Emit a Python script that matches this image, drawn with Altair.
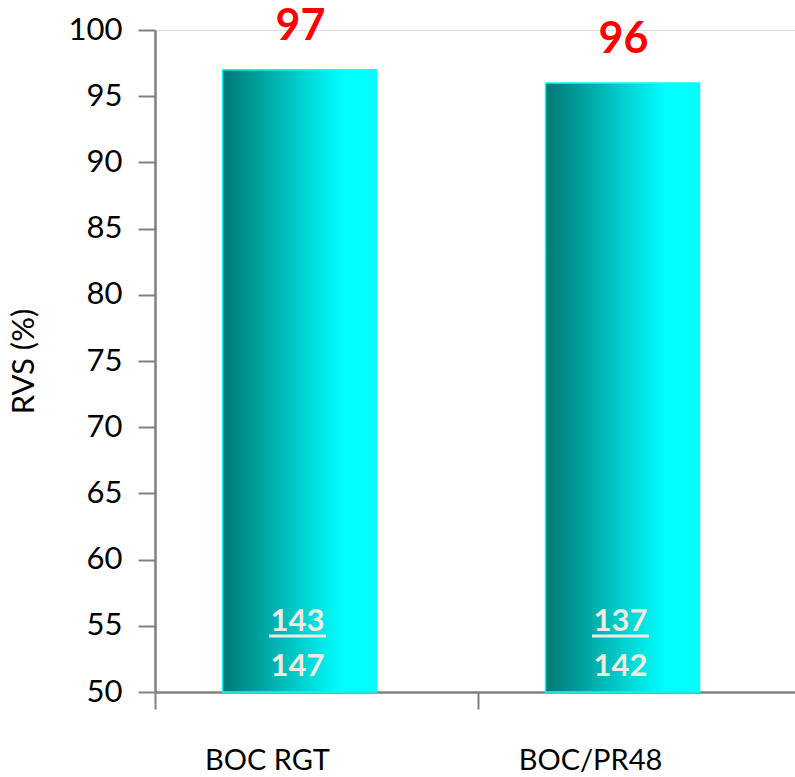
import altair as alt
import pandas as pd

# Sustained virological response by regimen
groups = ["BOC RGT", "BOC/PR48"]
rvs = [97, 96]
responders = [143, 137]
patients = [147, 142]

df = pd.DataFrame({
    "group": groups,
    "rvs": rvs,
    "resp": [str(v) for v in responders],
    "total": [str(v) for v in patients],
})

FONT = "Lato"
AXIS_GREY = "#808080"
INNER = "#EFEBDF"
SHIFT = -17

x_scale = alt.Scale(paddingInner=0, paddingOuter=0, range=[0, 646])

x_enc = alt.X(
    "group:N",
    sort=groups,
    scale=x_scale,
    axis=alt.Axis(
        title=None,
        bandPosition=0,
        labelOffset=-49,
        labelAngle=0,
        labelFont=FONT,
        labelFontSize=29,
        labelColor="black",
        labelPadding=37,
        tickSize=17,
        tickColor=AXIS_GREY,
        tickWidth=2,
        domainColor=AXIS_GREY,
        domainWidth=2.5,
        grid=False,
    ),
)

y_scale = alt.Scale(domain=[50, 100], zero=False, nice=False)

bar_fill = alt.Gradient(
    gradient="linear",
    x1=0, y1=0, x2=1, y2=0,
    stops=[
        alt.GradientStop(color="#007874", offset=0),
        alt.GradientStop(color="#00FFFF", offset=0.78),
        alt.GradientStop(color="#00FFFF", offset=1),
    ],
)

bars = alt.Chart(df).mark_bar(
    size=154, xOffset=SHIFT, color=bar_fill, stroke="#00FFFF", strokeWidth=1.5
).encode(
    x=x_enc,
    y=alt.Y(
        "rvs:Q",
        scale=y_scale,
        axis=alt.Axis(
            title="RVS (%)",
            values=list(range(50, 101, 5)),
            titleFont=FONT,
            titleFontSize=31,
            titleFontWeight="normal",
            titleColor="black",
            titlePadding=28,
            labelFont=FONT,
            labelFontSize=31,
            labelColor="black",
            labelPadding=16,
            tickSize=17,
            tickColor=AXIS_GREY,
            tickWidth=2,
            domainColor=AXIS_GREY,
            domainWidth=2.5,
            grid=False,
        ),
    ),
    y2=alt.datum(50),
)

top_labels = alt.Chart(df).mark_text(
    font=FONT, fontSize=43, fontWeight="bold", color="#FF0000",
    baseline="alphabetic", dy=-30, dx=SHIFT + 1,
).encode(x=alt.X("group:N", scale=x_scale), y=alt.Y("rvs:Q", scale=y_scale), text="rvs:Q")

numerators = alt.Chart(df).mark_text(
    font=FONT, fontSize=31, fontWeight="bold", color=INNER,
    baseline="alphabetic", dy=-61, dx=SHIFT - 2,
).encode(x=alt.X("group:N", scale=x_scale), y=alt.datum(50), text="resp:N")

denominators = alt.Chart(df).mark_text(
    font=FONT, fontSize=31, fontWeight="bold", color=INNER,
    baseline="alphabetic", dy=-16, dx=SHIFT - 2,
).encode(x=alt.X("group:N", scale=x_scale), y=alt.datum(50), text="total:N")

underline = alt.Chart(df).mark_tick(
    size=57, thickness=3, color=INNER, opacity=1, yOffset=-56, xOffset=SHIFT - 2,
).encode(x=alt.X("group:N", scale=x_scale), y=alt.datum(50))

chart = alt.layer(bars, top_labels, numerators, denominators, underline).properties(
    width=640,
    height=662,
    autosize=alt.AutoSizeParams(type="none"),
    padding={"left": 155, "top": 30, "right": 0, "bottom": 85},
).configure_view(stroke=None).configure(background="white")

chart.save("out.html", embed_options={"renderer": "svg", "actions": False})
